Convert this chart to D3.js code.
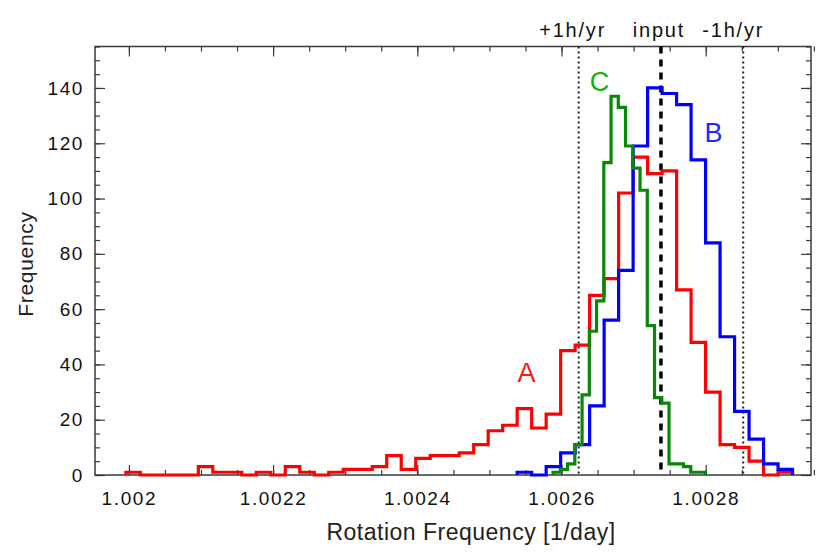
<!DOCTYPE html>
<html>
<head>
<meta charset="utf-8">
<script src="https://cdn.jsdelivr.net/npm/d3@7"></script>
<style>
  body { margin: 0; background: #fff; }
  text { font-family: "Liberation Sans", Arial, Helvetica, sans-serif; fill: #111; }
</style>
</head>
<body>
<svg id="chart"></svg>
<script>
// Histogram bins (rotation frequency, 1/day)
const binWidthAB = 0.0000201;
const redStart = 1.0019958;
const blueStart = 1.0025385;
const greenStart = 1.0025883;
const binWidthC = 0.00001005;

// counts per bin
const redCounts = [1, 0, 0, 0, 0, 3, 1, 1, 0, 1, 0, 3, 1, 0, 1, 2, 2, 3, 7, 2, 6, 7, 7, 8, 11,
    16, 18, 24, 17, 22, 45, 47, 65, 71, 102, 115, 109, 110, 67, 48, 30, 11, 10, 5, 0, 1];
const blueCounts = [1, 0, 3, 8, 11, 25, 56, 74, 119, 140, 138, 134, 114, 84, 50, 23, 13, 4, 2];
const greenCounts = [1, 2, 4, 11, 29, 52, 63, 113, 137, 133, 119, 111, 103, 54, 28, 26, 4, 4, 3, 1, 1];

// reference lines
const refLabels = ['+1h/yr', 'input', '-1h/yr'];
const refValues = [1.0026238, 1.0027379, 1.002852];

// axes
const xTicks = [1.002, 1.0022, 1.0024, 1.0026, 1.0028];
const xTickLabels = ['1.002', '1.0022', '1.0024', '1.0026', '1.0028'];
const yTicks = [0, 20, 40, 60, 80, 100, 120, 140];

window.addEventListener('load', () => {
    const W = 830, H = 553;
    const margin = { top: 46.5, right: 19, bottom: 78, left: 95 };

    const svg = d3.select('#chart').attr('width', W).attr('height', H);

    const xScale = d3.scaleLinear().domain([1.001953, 1.002946]).range([margin.left, W - margin.right]);
    const yScale = d3.scaleLinear().domain([0, 155]).range([H - margin.bottom, margin.top]);
    const x0 = xScale.range()[0], x1 = xScale.range()[1];
    const y0 = yScale.range()[0], y1 = yScale.range()[1];

    // minor tick positions
    const xMinor = d3.range(1.002, 1.00295, 0.00005);
    const yMinor = d3.range(0, 156, 5);

    const tickColor = '#3a3a3a';

    function styleAxis(g) {
        g.select('.domain').remove();
        g.selectAll('line').attr('stroke', tickColor).attr('stroke-width', 1.2);
    }

    // bottom
    svg.append('g').attr('transform', `translate(0,${y0})`)
        .call(d3.axisBottom(xScale).tickValues(xMinor).tickSize(-5).tickFormat(''))
        .call(styleAxis);
    svg.append('g').attr('transform', `translate(0,${y0})`)
        .call(d3.axisBottom(xScale).tickValues(xTicks).tickSize(-10).tickPadding(16.5)
            .tickFormat((d, i) => xTickLabels[i]))
        .call(styleAxis)
        .selectAll('text')
        .style('font-size', '19px').style('letter-spacing', '1.6px').attr('fill', '#111');
    // top
    svg.append('g').attr('transform', `translate(0,${y1})`)
        .call(d3.axisTop(xScale).tickValues(xMinor).tickSize(-5).tickFormat(''))
        .call(styleAxis);
    svg.append('g').attr('transform', `translate(0,${y1})`)
        .call(d3.axisTop(xScale).tickValues(xTicks).tickSize(-10).tickFormat(''))
        .call(styleAxis);
    // left
    svg.append('g').attr('transform', `translate(${x0},0)`)
        .call(d3.axisLeft(yScale).tickValues(yMinor).tickSize(-5).tickFormat(''))
        .call(styleAxis);
    svg.append('g').attr('transform', `translate(${x0},0)`)
        .call(d3.axisLeft(yScale).tickValues(yTicks).tickSize(-10).tickPadding(11))
        .call(styleAxis)
        .selectAll('text')
        .style('font-size', '19px').style('letter-spacing', '1.6px').attr('fill', '#111');
    // right
    svg.append('g').attr('transform', `translate(${x1},0)`)
        .call(d3.axisRight(yScale).tickValues(yMinor).tickSize(-5).tickFormat(''))
        .call(styleAxis);
    svg.append('g').attr('transform', `translate(${x1},0)`)
        .call(d3.axisRight(yScale).tickValues(yTicks).tickSize(-10).tickFormat(''))
        .call(styleAxis);

    // frame
    svg.append('rect')
        .attr('x', x0).attr('y', y1)
        .attr('width', x1 - x0).attr('height', y0 - y1)
        .attr('fill', 'none').attr('stroke', tickColor).attr('stroke-width', 1.5);

    // reference lines
    refValues.forEach((v, i) => {
        const isInput = refLabels[i] === 'input';
        svg.append('line')
            .attr('x1', xScale(v)).attr('x2', xScale(v))
            .attr('y1', y1).attr('y2', y0)
            .attr('stroke', isInput ? '#000' : '#222')
            .attr('stroke-width', isInput ? 3.5 : 2)
            .attr('stroke-dasharray', isInput ? '7,6' : '2,3');
    });
    const refDx = [-6, -2, -10];
    svg.selectAll('.ref-label')
        .data(refLabels)
        .enter().append('text')
        .attr('class', 'ref-label')
        .attr('x', (d, i) => xScale(refValues[i]) + refDx[i])
        .attr('y', 37)
        .attr('text-anchor', 'middle')
        .style('font-size', '20px')
        .style('letter-spacing', '1.8px')
        .text(d => d);

    // step histograms
    function stepPoints(start, width, counts) {
        const pts = [[start, 0]];
        counts.forEach((c, i) => {
            pts.push([start + i * width, c]);
            pts.push([start + (i + 1) * width, c]);
        });
        pts.push([start + counts.length * width, 0]);
        return pts;
    }
    const line = d3.line().x(d => xScale(d[0])).y(d => yScale(d[1]));

    const series = [
        { pts: stepPoints(redStart, binWidthAB, redCounts), color: '#ff0000' },
        { pts: stepPoints(blueStart, binWidthAB, blueCounts), color: '#0000ff' },
        { pts: stepPoints(greenStart, binWidthC, greenCounts), color: '#078807' }
    ];
    series.forEach(s => {
        svg.append('path')
            .attr('d', line(s.pts))
            .attr('fill', 'none')
            .attr('stroke', s.color)
            .attr('stroke-width', 3.2)
            .attr('stroke-linejoin', 'miter');
    });

    // series labels
    const seriesLabels = [
        { t: 'A', x: 1.0025513, y: 33.7, c: '#ff1a1a' },
        { t: 'B', x: 1.0028109, y: 120.5, c: '#1a2aff' },
        { t: 'C', x: 1.0026528, y: 139, c: '#12b012' }
    ];
    svg.selectAll('.slabel')
        .data(seriesLabels)
        .enter().append('text')
        .attr('class', 'slabel')
        .attr('x', d => xScale(d.x))
        .attr('y', d => yScale(d.y))
        .attr('text-anchor', 'middle')
        .style('font-size', '27px')
        .style('fill', d => d.c)
        .text(d => d.t);

    // axis titles
    svg.append('text')
        .attr('x', 471).attr('y', 540)
        .attr('text-anchor', 'middle')
        .style('font-size', '23px')
        .style('letter-spacing', '0.5px')
        .style('fill', '#222')
        .text('Rotation Frequency [1/day]');

    svg.append('text')
        .attr('transform', 'translate(33,264) rotate(-90)')
        .attr('text-anchor', 'middle')
        .style('font-size', '21px')
        .style('letter-spacing', '0.7px')
        .style('fill', '#222')
        .text('Frequency');
});
</script>
</body>
</html>
